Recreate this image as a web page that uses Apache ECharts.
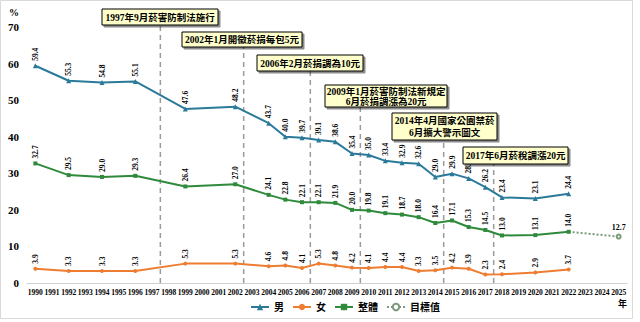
<!DOCTYPE html>
<html><head><meta charset="utf-8">
<script src="https://cdn.jsdelivr.net/npm/echarts@6/dist/echarts.min.js"></script>
<style>html,body{margin:0;padding:0;background:#fff}#c{width:640px;height:322px}</style>
</head><body><div id="c"></div>
<script>
const categories = ['1990','1991','1992','1993','1994','1995','1996','1997','1998','1999','2000','2001','2002','2003','2004','2005','2006','2007','2008','2009','2010','2011','2012','2013','2014','2015','2016','2017','2018','2019','2020','2021','2022','2023','2024','2025'];
const yTicks = [0,10,20,30,40,50,60,70];
const surveyYears = ['1990','1992','1994','1996','1999','2002','2004','2005','2006','2007','2008','2009','2010','2011','2012','2013','2014','2015','2016','2017','2018','2020','2022'];
const male   = [59.4,55.3,54.8,55.1,47.6,48.2,43.7,40.0,39.7,39.1,38.6,35.4,35.0,33.4,32.9,32.6,29.0,29.9,28.6,26.2,23.4,23.1,24.4];
const female = [3.9,3.3,3.3,3.3,5.3,5.3,4.6,4.8,4.1,5.3,4.8,4.2,4.1,4.4,4.4,3.3,3.5,4.2,3.9,2.3,2.4,2.9,3.7];
const total  = [32.7,29.5,29.0,29.3,26.4,27.0,24.1,22.8,22.1,22.1,21.9,20.0,19.8,19.1,18.7,18.0,16.4,17.1,15.3,14.5,13.0,13.1,14.0];
const targetYears = ['2022','2025'];
const targetValues = [14.0,12.7];
const seriesNames = ['男','女','整體','目標值'];
// policy events: boundary position (year), label text, top of dashed line (in % units)
const eventAt = [1997.5,2002.5,2006.5,2009.5,2014.5,2017.5];
const eventTop = [70.5,64.5,57.9,48.1,39.1,32.5];
const eventText = ['1997年9月菸害防制法施行','2002年1月開徵菸捐每包5元','2006年2月菸捐調為10元','2009年1月菸害防制法新規定\n6月菸捐調漲為20元','2014年4月國家公園禁菸\n6月擴大警示圖文','2017年6月菸稅調漲20元'];
const boxes = [[102,9,116,16],[182,32,120,15],[257,55,106,16],[325,85,122,22],[392,113,105,27],[463,147,105,17]];

function toSeries(yrs, vals){
  return categories.map(c => { const i = yrs.indexOf(c); return i < 0 ? null : vals[i]; });
}
const numFont = '"Liberation Serif","Noto Sans CJK TC",serif';
const colors = {male:'#2B7A9A', female:'#ED7D31', total:'#2F8A3C'};

function labelSeries(vals){
  return {type:'custom', silent:true, z:4, xAxisIndex:0, yAxisIndex:0,
    data: surveyYears.map((y,i)=>[categories.indexOf(y), vals[i]]),
    renderItem:(params, api)=>{
      const pt = api.coord([api.value(0), api.value(1)]);
      return {type:'text', x:pt[0], y:pt[1]-5, rotation:Math.PI/2, originX:0, originY:0,
          style:{text:Number(api.value(1)).toFixed(1), align:'left', verticalAlign:'middle',
            font:'bold 7.5px '+numFont, fill:'#000'}};
    }};
}
const series = [
  {name:'男', type:'line', data:toSeries(surveyYears, male), connectNulls:true, color:colors.male,
    symbol:'triangle', symbolSize:5, lineStyle:{width:2}, z:3},
  {name:'女', type:'line', data:toSeries(surveyYears, female), connectNulls:true, color:colors.female,
    symbol:'circle', symbolSize:4, lineStyle:{width:2}, z:3},
  {name:'整體', type:'line', data:toSeries(surveyYears, total), connectNulls:true, color:colors.total,
    symbol:'rect', symbolSize:4, lineStyle:{width:2}, z:3},
  {name:'目標值', type:'line', connectNulls:true, color:colors.total,
    data: toSeries(targetYears, targetValues).map((v,i)=> v==null?null:(categories[i]==='2025'?{value:v, symbol:'emptyCircle', symbolSize:4, label:{show:true}}:{value:v, symbol:'none'})),
    lineStyle:{width:2, type:'dotted'}, itemStyle:{color:'#7a9a7a'},
    label:{show:false, position:'top', distance:2, fontSize:8, fontWeight:'bold', fontFamily:numFont, color:'#000', formatter:p=>Number(p.value).toFixed(1)}, z:2},
  labelSeries(male), labelSeries(female), labelSeries(total)
];
eventAt.forEach((x,i)=>{
  series.push({type:'line', xAxisIndex:1, yAxisIndex:0, data:[[x,0],[x,eventTop[i]]], symbol:'none', silent:true,
    lineStyle:{color:'#9a9a9a', width:1.5, type:[5,4]}, z:1});
});
const graphic = [
  {type:'rect', shape:{x:0.5,y:0.5,width:632,height:318}, style:{fill:'none', stroke:'#d9d9d9', lineWidth:1}, z:0},
  {type:'text', left:9, top:7, style:{text:'%', font:'bold 10px '+numFont, fill:'#000'}},
  {type:'text', left:618, top:299, style:{text:'年', font:'bold 9px "Noto Sans CJK TC"', fill:'#000'}}
];
boxes.forEach((b,i)=>{
  graphic.push({type:'rect', shape:{x:b[0], y:b[1], width:b[2], height:b[3]}, z:50,
    style:{fill:'#FFFFCC', stroke:'#000', lineWidth:1, shadowColor:'rgba(0,0,0,0.45)', shadowOffsetX:2, shadowOffsetY:2, shadowBlur:1}});
  graphic.push({type:'text', x:b[0]+b[2]/2, y:b[1]+b[3]/2+0.5, z:51,
    style:{text:eventText[i], font:'bold 9.5px '+numFont, fill:'#000', align:'center', verticalAlign:'middle', lineHeight:eventText[i].includes('\n')? (b[3]>24?12:10):10}});
});
const chart = echarts.init(document.getElementById('c'), null, {renderer:'svg'});
chart.setOption({
  animation:false,
  backgroundColor:'#fff',
  grid:{left:27, right:13, top:27, bottom:39},
  legend:{data:seriesNames, bottom:5, left:245, itemWidth:18, itemHeight:8, itemGap:8,
    textStyle:{fontSize:10, fontWeight:'bold', fontFamily:numFont, color:'#000'}},
  xAxis:[
    {type:'category', data:categories, boundaryGap:true,
      axisLine:{lineStyle:{color:'#d0d0d0'}}, axisTick:{show:false},
      axisLabel:{interval:0, fontSize:7.5, fontWeight:'bold', fontFamily:numFont, color:'#000', margin:6}},
    {type:'value', min:1989.5, max:2025.5, show:false}
  ],
  yAxis:{type:'value', min:yTicks[0], max:yTicks[yTicks.length-1], interval:10,
    splitLine:{show:false}, axisLine:{show:false}, axisTick:{show:false},
    axisLabel:{fontSize:11, fontWeight:'bold', fontFamily:numFont, color:'#000', margin:8}},
  series,
  graphic
});
</script></body></html>
